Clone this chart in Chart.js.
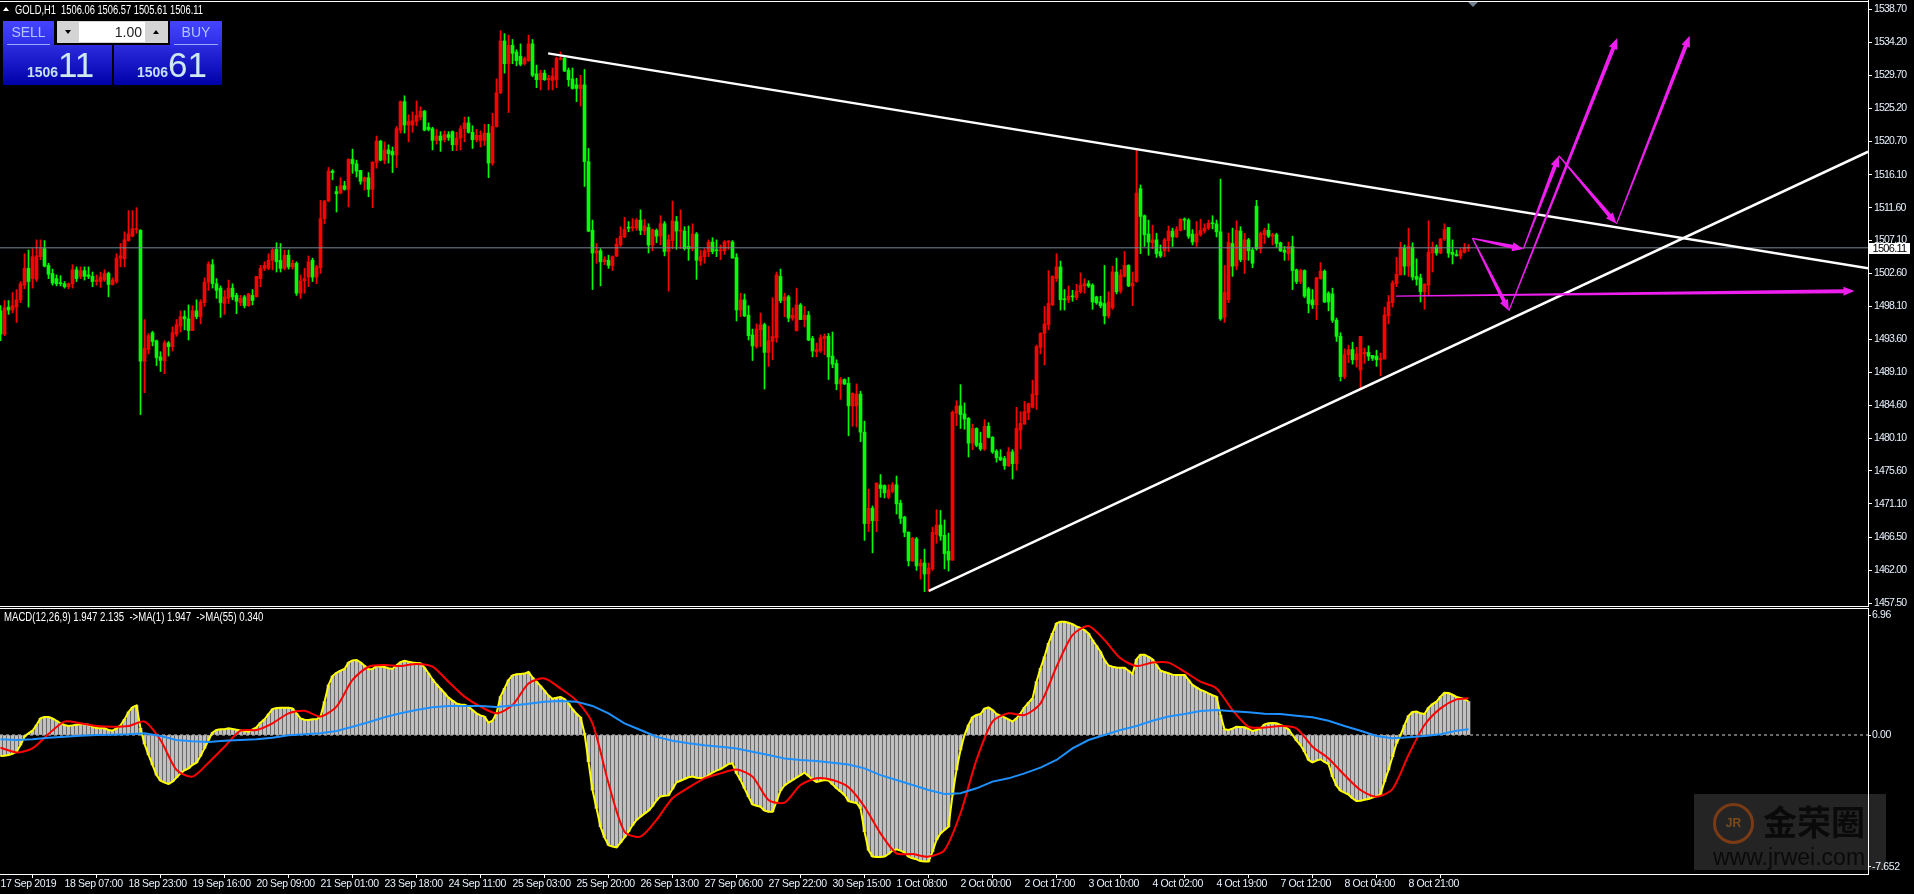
<!DOCTYPE html>
<html>
<head>
<meta charset="utf-8">
<title>GOLD,H1</title>
<script src="https://cdn.jsdelivr.net/npm/chart.js@4/dist/chart.umd.min.js"></script>
<style>
html, body { margin: 0; padding: 0; background: #000; overflow: hidden; }
body { width: 1914px; height: 894px; position: relative; font-family: "Liberation Sans", sans-serif; color: #fff; }
canvas { position: absolute; left: 0; }
#mainChart { top: 0; }
#macdChart { top: 608px; }
.abs { position: absolute; white-space: pre; }
.hline { position: absolute; left: 0; width: 1868px; height: 1px; background: #fff; }
#title { left: 15px; top: 3px; font-size: 12px; line-height: 14px; transform: scaleX(0.777); transform-origin: left center; }
#upmark { left: 3px; top: 7px; width: 0; height: 0; border-left: 3px solid transparent; border-right: 3px solid transparent; border-bottom: 4px solid #fff; }
#macdTitle { left: 4px; top: 610px; font-size: 12px; line-height: 14px; transform: scaleX(0.8); transform-origin: left center; }
#shift { left: 1468px; top: 2px; width: 0; height: 0; border-left: 5px solid transparent; border-right: 5px solid transparent; border-top: 5px solid #708090; }
#priceTag { left: 1869px; top: 243px; width: 41px; height: 11px; background: #fff; color: #000; font-size: 11px; letter-spacing: -0.7px; line-height: 11px; text-align: center; }
.btnTop { top: 21px; width: 51px; height: 24px; background: linear-gradient(#4545ff, #2e2ee6); color: #b4c4ff; font-size: 14px; line-height: 22px; text-align: center; }
.btnTop:after { content: ""; position: absolute; left: 4px; right: 4px; top: 23px; height: 1px; background: #9aa8ff; }
.btnLow { top: 45px; width: 109px; height: 40px; background: linear-gradient(#2c2ce0, #0000a8); }
.small { color: #c4e0f0; font-size: 14px; font-weight: bold; top: 65px; line-height: 14px; }
.big { color: #cfe8ee; font-size: 35px; top: 47px; line-height: 36px; }
#spin { left: 57px; top: 21px; width: 111px; height: 22px; background: #d4d4d4; }
#spinVal { left: 22px; top: 1px; width: 66px; height: 20px; background: #fff; color: #222; font-size: 14px; line-height: 20px; text-align: right; padding-right: 3px; box-sizing: border-box; }
.spinArrow { top: 9px; width: 0; height: 0; border-left: 3px solid transparent; border-right: 3px solid transparent; }
#wm { left: 1694px; top: 794px; width: 192px; height: 76px; background: rgba(255,255,255,0.14); }
#wmRing { left: 19px; top: 9px; width: 35px; height: 35px; border-radius: 50%; border: 3px solid #7a3a14; color: #7a4a1c; font-size: 12px; line-height: 35px; text-align: center; font-weight: bold; }
#wmName { left: 69px; top: 7px; color: #0a0a0a; font-size: 34px; line-height: 40px; font-family: "Noto Sans CJK SC", sans-serif; font-weight: 700; }
#wmUrl { left: 19px; top: 50px; color: #0a0a0a; font-size: 23px; line-height: 26px; }
</style>
</head>
<body>
<canvas id="mainChart" width="1914" height="607"></canvas>
<canvas id="macdChart" width="1914" height="286"></canvas>

<div class="hline" style="top:1px"></div>
<div class="hline" style="top:606px"></div>
<div class="hline" style="top:608px"></div>
<div id="upmark" class="abs"></div>
<div id="title" class="abs">GOLD,H1  1506.06 1506.57 1505.61 1506.11</div>
<div id="macdTitle" class="abs">MACD(12,26,9) 1.947 2.135  -&gt;MA(1) 1.947  -&gt;MA(55) 0.340</div>
<div id="shift" class="abs"></div>
<div id="priceTag" class="abs">1506.11</div>

<div class="abs btnLow" style="left:3px"></div>
<div class="abs btnLow" style="left:114px;width:108px"></div>
<div class="abs btnTop" style="left:3px">SELL</div>
<div class="abs btnTop" style="left:170px;width:52px">BUY</div>
<div id="spin" class="abs">
  <div class="abs spinArrow" style="left:8px;border-top:4px solid #000"></div>
  <div id="spinVal" class="abs">1.00</div>
  <div class="abs spinArrow" style="left:96px;border-bottom:4px solid #000"></div>
</div>
<div class="abs small" style="left:27px">1506</div>
<div class="abs big" style="left:58px">11</div>
<div class="abs small" style="left:137px">1506</div>
<div class="abs big" style="left:168px">61</div>

<div id="wm" class="abs">
  <div id="wmRing" class="abs">JR</div>
  <div id="wmName" class="abs">金荣圈</div>
  <div id="wmUrl" class="abs">www.jrwei.com</div>
</div>

<script>
"use strict";

// candles, one per hour bar
const opens = [
1497.5,1494.3,1498.0,1497.6,1498.0,1499.0,1501.0,1503.3,1501.9,1501.8,
1504.9,1506.0,1503.7,1502.6,1501.9,1501.3,1501.2,1500.8,1501.2,1503.1,
1502.2,1503.0,1502.4,1502.2,1501.5,1501.5,1501.7,1502.6,1501.1,1501.5,
1504.7,1504.6,1507.1,1507.7,1508.6,1508.5,1490.6,1492.2,1494.5,1493.4,
1491.2,1490.7,1493.1,1492.6,1494.3,1495.4,1496.7,1496.4,1494.8,1497.5,
1496.7,1498.6,1501.4,1503.8,1501.2,1500.6,1498.5,1499.2,1500.6,1499.6,
1498.6,1499.4,1498.2,1499.6,1499.4,1501.9,1503.3,1503.3,1504.4,1505.9,
1504.4,1503.3,1505.1,1503.5,1504.0,1499.9,1501.6,1502.1,1504.4,1502.1,
1503.4,1510.1,1512.5,1516.6,1513.8,1513.6,1514.6,1514.1,1518.2,1517.6,
1516.7,1515.2,1515.7,1514.1,1517.8,1520.7,1518.1,1519.5,1519.3,1518.8,
1522.2,1526.1,1522.9,1522.9,1523.4,1524.0,1524.8,1522.6,1522.4,1520.8,
1521.4,1520.9,1521.6,1522.0,1520.2,1521.1,1522.4,1523.2,1521.9,1520.9,
1520.8,1520.8,1521.8,1517.7,1522.7,1527.3,1534.4,1531.3,1533.8,1532.9,
1532.3,1531.3,1531.7,1534.0,1529.9,1529.1,1530.0,1529.1,1529.0,1529.1,
1531.9,1532.0,1530.4,1529.2,1528.4,1527.9,1528.4,1517.9,1508.5,1505.4,
1505.7,1504.2,1504.4,1503.7,1505.0,1506.5,1507.6,1508.9,1508.8,1508.8,
1509.9,1508.4,1508.9,1506.5,1508.5,1507.7,1509.4,1505.6,1507.1,1509.7,
1508.4,1508.4,1506.3,1506.0,1508.0,1504.3,1504.9,1505.6,1506.9,1505.8,
1505.7,1505.7,1506.9,1506.9,1504.8,1497.6,1499.0,1496.9,1494.2,1492.6,
1494.9,1495.6,1491.8,1493.3,1493.8,1502.2,1498.9,1499.4,1496.5,1494.8,
1498.3,1496.3,1496.9,1493.7,1491.9,1492.0,1493.7,1494.0,1491.3,1490.3,
1487.5,1488.1,1487.6,1484.5,1484.5,1486.1,1480.9,1468.4,1470.5,1468.8,
1473.7,1473.6,1472.0,1472.8,1473.7,1471.2,1469.3,1467.2,1463.3,1466.3,
1462.6,1463.0,1461.5,1462.2,1466.9,1468.2,1466.8,1464.6,1463.4,1483.5,
1484.5,1483.4,1482.8,1479.4,1481.4,1479.4,1478.6,1481.7,1480.2,1478.3,
1477.5,1477.3,1476.3,1478.2,1476.6,1481.2,1482.0,1483.6,1484.3,1486.0,
1492.5,1494.4,1495.6,1498.3,1501.9,1503.5,1499.1,1499.0,1499.5,1499.3,
1500.1,1500.9,1501.2,1501.0,1499.4,1498.7,1498.5,1496.8,1497.9,1502.8,
1500.2,1502.2,1503.7,1500.9,1501.5,1514.2,1510.5,1508.0,1506.8,1507.2,
1505.6,1505.7,1507.1,1508.4,1507.6,1508.5,1510.0,1509.9,1508.0,1506.9,
1507.9,1508.4,1508.8,1509.5,1509.4,1508.3,1496.6,1499.0,1506.7,1503.6,
1508.4,1504.5,1507.2,1505.8,1511.8,1506.0,1507.9,1508.5,1507.7,1507.9,
1506.8,1505.8,1505.3,1506.3,1503.1,1501.5,1503.0,1500.5,1499.0,1498.3,
1501.9,1502.9,1499.9,1499.8,1496.2,1494.0,1488.5,1491.5,1492.2,1490.8,
1489.4,1491.6,1491.8,1491.4,1491.3,1490.8,1490.9,1496.8,1498.6,1501.2,
1502.4,1506.1,1503.6,1506.2,1502.2,1502.0,1500.1,1501.0,1505.4,1506.2,
1505.4,1507.3,1508.9,1505.5,1505.2,1505.0,1505.5,1506.06];

const highs = [
1498.2,1498.9,1498.9,1500.0,1500.4,1501.5,1505.3,1505.8,1506.0,1507.2,
1507.2,1507.1,1504.0,1503.2,1502.4,1502.3,1501.5,1501.3,1503.8,1503.5,
1503.5,1503.5,1503.5,1502.8,1502.4,1502.8,1503.1,1502.8,1502.0,1505.3,
1506.7,1508.3,1511.2,1511.2,1511.6,1508.6,1496.3,1494.4,1494.7,1493.5,
1491.9,1493.4,1493.3,1495.3,1496.3,1497.5,1497.5,1498.3,1498.2,1499.0,
1499.0,1502.0,1504.2,1504.5,1501.9,1500.9,1500.3,1501.7,1501.2,1499.9,
1499.6,1499.6,1499.9,1500.4,1502.2,1503.7,1504.2,1505.3,1506.0,1506.8,
1506.7,1505.8,1505.8,1504.4,1504.2,1502.4,1503.3,1505.0,1504.7,1503.7,
1512.6,1512.6,1517.1,1516.8,1514.5,1515.7,1515.2,1518.3,1519.6,1518.1,
1516.7,1515.8,1516.4,1517.9,1521.4,1520.8,1520.6,1520.2,1519.9,1522.7,
1526.2,1526.9,1524.3,1524.7,1526.2,1525.4,1524.9,1523.2,1522.6,1522.3,
1522.0,1522.1,1522.0,1522.1,1521.9,1522.8,1524.0,1524.0,1522.8,1522.3,
1522.1,1523.0,1523.0,1524.5,1529.2,1535.8,1535.4,1535.2,1534.6,1533.2,
1534.0,1532.2,1535.2,1534.6,1531.1,1530.4,1530.4,1529.7,1530.7,1532.2,
1532.9,1532.2,1530.7,1530.7,1529.3,1529.7,1530.5,1519.7,1509.9,1506.7,
1506.0,1504.9,1505.1,1505.0,1507.4,1509.0,1510.3,1509.7,1510.1,1510.1,
1511.3,1510.0,1509.4,1508.7,1508.7,1510.5,1509.7,1507.9,1512.5,1510.4,
1511.3,1509.0,1509.1,1509.4,1508.2,1505.8,1506.0,1507.2,1507.5,1507.2,
1506.5,1507.1,1507.1,1507.1,1505.3,1499.9,1499.8,1498.2,1495.0,1495.7,
1497.2,1495.8,1495.4,1499.3,1502.8,1503.2,1499.9,1499.6,1497.9,1500.6,
1498.5,1498.1,1497.4,1494.0,1493.1,1494.2,1494.3,1494.4,1494.6,1490.8,
1488.4,1488.2,1488.4,1486.3,1487.5,1486.5,1482.4,1473.1,1470.8,1474.0,
1475.1,1473.7,1473.7,1474.0,1474.9,1471.6,1469.4,1467.3,1466.5,1466.5,
1463.5,1464.9,1463.0,1467.9,1470.3,1470.2,1468.9,1467.1,1483.8,1485.2,
1487.4,1484.9,1482.9,1482.0,1481.5,1480.9,1482.6,1482.2,1480.3,1478.5,
1478.5,1477.6,1478.8,1478.5,1484.3,1483.7,1485.1,1484.9,1488.0,1492.8,
1494.5,1498.1,1503.0,1502.3,1505.3,1504.3,1500.4,1500.9,1500.3,1501.1,
1502.7,1501.9,1501.6,1501.2,1499.5,1499.5,1503.7,1500.1,1503.6,1504.7,
1503.1,1505.6,1503.8,1502.8,1519.5,1514.7,1510.6,1509.9,1509.2,1508.1,
1506.5,1507.4,1509.1,1508.8,1509.0,1510.1,1510.2,1510.1,1508.6,1509.7,
1510.0,1509.4,1509.9,1510.5,1509.9,1515.5,1503.7,1508.1,1508.8,1509.8,
1509.0,1508.1,1507.4,1506.1,1512.6,1508.3,1508.8,1509.4,1508.1,1508.1,
1506.9,1506.3,1506.9,1507.7,1503.2,1503.2,1503.1,1500.7,1500.4,1502.1,
1504.1,1503.1,1500.1,1500.6,1496.5,1494.5,1492.3,1492.8,1493.2,1492.5,
1494.0,1492.4,1492.7,1491.4,1492.1,1491.7,1498.0,1499.6,1501.6,1504.8,
1506.9,1506.5,1508.8,1506.8,1504.6,1502.5,1501.2,1509.8,1506.9,1506.5,
1507.4,1509.4,1508.9,1507.2,1505.8,1506.0,1506.7,1506.57];

const lows = [
1493.4,1494.1,1497.0,1497.2,1495.9,1498.6,1500.5,1498.0,1500.6,1501.5,
1504.5,1503.5,1501.9,1501.0,1500.9,1500.9,1500.6,1500.5,1500.6,1501.5,
1501.9,1501.7,1501.9,1500.8,1501.0,1500.7,1501.5,1499.4,1501.0,1501.3,
1503.5,1503.5,1507.0,1507.6,1508.1,1483.3,1486.3,1491.6,1492.7,1490.0,
1489.2,1488.9,1491.3,1492.0,1494.0,1494.6,1494.9,1493.5,1494.8,1496.4,
1495.7,1498.1,1500.3,1500.6,1499.2,1496.6,1497.0,1498.5,1499.0,1497.1,
1498.2,1497.9,1498.1,1498.3,1499.4,1500.8,1503.0,1503.1,1503.1,1502.8,
1502.8,1503.1,1503.2,1503.2,1499.6,1499.2,1499.9,1500.8,1501.5,1501.2,
1502.6,1509.4,1512.4,1515.4,1511.0,1513.5,1514.0,1511.7,1516.3,1515.8,
1514.8,1514.0,1513.1,1511.6,1517.0,1518.0,1517.6,1517.7,1516.4,1517.1,
1521.8,1521.8,1520.6,1521.9,1522.8,1523.6,1522.1,1522.1,1519.5,1520.3,
1519.3,1520.6,1520.8,1519.4,1519.4,1519.5,1520.6,1521.8,1519.7,1520.6,
1519.9,1520.1,1515.7,1517.4,1522.6,1527.2,1530.0,1524.6,1531.3,1531.0,
1531.0,1531.1,1531.6,1529.5,1528.0,1527.7,1529.0,1527.7,1527.7,1528.0,
1531.8,1530.2,1528.2,1527.8,1526.1,1525.5,1514.5,1508.3,1500.4,1504.0,
1500.9,1503.8,1503.3,1503.0,1504.9,1506.3,1507.5,1508.3,1508.4,1508.5,
1507.9,1507.9,1505.4,1505.7,1506.8,1506.5,1505.0,1500.2,1506.0,1505.9,
1506.0,1505.8,1504.4,1505.7,1501.8,1503.7,1504.0,1504.9,1505.3,1504.9,
1504.5,1505.2,1505.9,1504.7,1496.1,1496.7,1496.7,1493.5,1490.7,1492.4,
1492.6,1486.8,1489.9,1490.8,1493.2,1498.6,1496.7,1496.0,1496.2,1494.7,
1496.3,1495.3,1493.4,1491.2,1491.2,1491.8,1491.5,1488.1,1489.7,1486.7,
1485.4,1487.4,1480.4,1481.7,1481.6,1479.6,1466.1,1467.3,1464.4,1467.3,
1472.0,1471.9,1471.8,1472.6,1469.7,1468.4,1466.6,1462.6,1463.2,1462.0,
1460.8,1459.1,1459.1,1462.0,1465.7,1466.1,1462.2,1461.9,1463.4,1481.8,
1481.4,1481.3,1477.5,1478.5,1478.9,1478.4,1478.4,1480.1,1478.0,1476.8,
1477.0,1475.8,1476.2,1474.5,1475.7,1478.6,1482.0,1482.6,1484.2,1484.0,
1491.6,1490.1,1494.9,1498.2,1501.5,1497.6,1497.6,1498.6,1498.8,1499.0,
1499.9,1499.9,1500.7,1497.7,1498.4,1497.9,1495.7,1496.5,1497.7,1499.8,
1499.9,1502.1,1500.8,1498.2,1501.4,1505.3,1506.3,1505.1,1506.0,1504.8,
1504.8,1504.9,1505.6,1506.3,1507.5,1508.4,1508.6,1507.4,1506.5,1506.3,
1507.7,1508.1,1508.6,1508.7,1507.6,1496.2,1495.9,1498.6,1502.2,1503.1,
1504.2,1502.6,1504.4,1503.4,1505.8,1505.4,1506.7,1507.5,1506.5,1506.2,
1505.6,1504.4,1504.4,1500.4,1501.2,1501.2,1499.3,1497.2,1497.8,1496.3,
1501.8,1498.6,1497.5,1495.9,1493.3,1487.9,1488.2,1490.4,1490.2,1489.8,
1486.9,1490.3,1490.7,1490.7,1489.9,1488.6,1490.9,1495.7,1498.0,1500.8,
1502.4,1502.4,1502.2,1501.7,1501.0,1498.7,1497.7,1499.6,1502.8,1505.1,
1505.3,1507.1,1504.8,1503.9,1505.0,1504.6,1505.4,1505.61];

const closes = [
1494.3,1497.9,1497.6,1498.2,1499.0,1501.2,1503.3,1501.5,1504.9,1505.0,
1506.0,1503.6,1502.5,1501.3,1501.2,1501.2,1500.8,1501.2,1503.1,1501.9,
1503.0,1502.2,1502.2,1501.5,1501.7,1502.1,1502.6,1501.1,1501.7,1504.7,
1505.0,1507.2,1508.0,1508.7,1508.7,1490.6,1492.4,1494.1,1493.3,1491.1,
1490.7,1493.1,1492.6,1494.5,1495.6,1496.7,1496.4,1494.8,1497.5,1496.7,
1498.7,1501.4,1503.9,1501.2,1500.3,1498.6,1499.4,1500.6,1499.4,1498.8,
1499.2,1498.2,1499.8,1498.9,1502.2,1503.3,1503.7,1504.4,1505.8,1504.2,
1503.3,1505.1,1503.5,1504.0,1499.9,1501.6,1501.9,1504.2,1502.1,1503.5,
1510.1,1512.5,1516.6,1516.4,1513.5,1514.6,1514.1,1518.2,1517.6,1516.6,
1515.2,1515.7,1514.1,1517.8,1520.7,1518.1,1519.5,1519.0,1518.8,1522.4,
1526.1,1522.9,1523.4,1523.5,1524.2,1524.8,1522.2,1522.3,1520.8,1521.4,
1520.8,1521.6,1521.2,1520.2,1521.1,1522.4,1523.2,1521.9,1520.9,1521.5,
1521.5,1521.8,1517.7,1522.7,1527.3,1534.4,1531.3,1533.8,1532.7,1531.7,
1531.2,1532.0,1534.0,1529.7,1529.1,1530.0,1529.1,1529.3,1529.6,1532.0,
1532.0,1530.3,1529.1,1527.9,1527.9,1528.4,1517.9,1508.4,1505.4,1505.7,
1504.2,1504.5,1503.7,1504.9,1506.6,1507.7,1508.6,1508.8,1509.0,1509.9,
1508.5,1509.1,1506.5,1508.6,1507.7,1509.4,1505.6,1507.2,1509.8,1508.4,
1508.5,1506.0,1506.0,1508.0,1504.4,1504.9,1505.7,1506.9,1505.6,1505.7,
1505.8,1506.9,1507.0,1504.7,1497.6,1499.0,1496.8,1494.1,1492.7,1495.0,
1495.6,1491.8,1493.4,1494.0,1502.4,1498.9,1499.4,1496.5,1496.9,1498.3,
1496.3,1496.9,1493.5,1492.0,1492.2,1493.8,1494.0,1491.2,1490.2,1487.5,
1488.1,1487.5,1484.5,1486.2,1486.1,1480.9,1468.4,1470.5,1468.8,1473.9,
1473.2,1472.6,1473.0,1473.7,1471.1,1469.1,1467.2,1463.3,1466.4,1462.6,
1463.0,1461.5,1462.3,1467.2,1468.2,1466.7,1464.3,1463.4,1483.6,1484.5,
1483.3,1482.7,1479.4,1481.4,1479.1,1478.6,1481.7,1480.2,1478.2,1477.4,
1477.1,1476.3,1478.2,1476.6,1481.4,1482.1,1483.7,1484.8,1486.1,1492.6,
1494.4,1495.7,1498.5,1502.2,1503.5,1499.0,1499.0,1499.5,1499.4,1500.2,
1501.0,1501.2,1500.9,1498.7,1498.6,1498.2,1496.8,1498.7,1502.8,1500.1,
1502.4,1503.7,1500.9,1501.3,1513.6,1510.4,1507.9,1506.9,1507.2,1505.3,
1505.0,1507.2,1508.4,1507.6,1508.6,1510.0,1509.9,1507.7,1506.9,1508.0,
1508.5,1508.8,1509.5,1509.4,1508.3,1496.4,1500.0,1506.9,1503.6,1508.5,
1504.5,1507.2,1505.7,1504.0,1506.0,1508.1,1508.5,1507.7,1507.9,1506.7,
1505.7,1505.5,1506.3,1503.0,1501.5,1503.0,1499.5,1498.5,1498.3,1502.0,
1502.9,1498.7,1498.7,1496.2,1494.0,1488.5,1491.5,1492.2,1490.8,1491.6,
1494.0,1491.8,1491.3,1491.0,1490.8,1491.0,1496.9,1498.7,1501.3,1502.5,
1506.1,1503.6,1506.3,1502.1,1501.8,1500.1,1501.15,1505.5,1506.2,1505.4,
1507.3,1508.6,1505.4,1505.2,1505.0,1505.7,1506.1,1506.11];

// MACD main line, also the grey histogram
const macdHist = [
-1.22,-1.20,-1.16,-1.09,-0.97,-0.58,-0.10,0.10,0.25,0.58,
0.97,1.05,1.05,0.97,0.83,0.68,0.58,0.52,0.56,0.60,
0.62,0.62,0.60,0.47,0.41,0.39,0.39,0.29,0.25,0.39,
0.56,0.91,1.34,1.61,1.72,0.39,-0.52,-1.16,-1.74,-2.33,
-2.66,-2.77,-2.85,-2.71,-2.48,-2.23,-2.05,-1.94,-1.74,-1.61,
-1.22,-0.78,-0.29,0.14,0.29,0.33,0.33,0.39,0.35,0.31,
0.27,0.23,0.19,0.33,0.45,0.72,0.91,1.22,1.51,1.57,
1.59,1.59,1.59,1.55,1.26,0.97,0.89,0.87,0.91,0.91,
1.07,1.94,2.91,3.43,3.62,3.74,3.84,4.21,4.34,4.36,
4.22,4.03,3.82,3.84,4.01,3.97,3.95,3.88,3.84,4.05,
4.24,4.32,4.26,4.21,4.19,4.17,3.91,3.59,3.24,2.95,
2.69,2.44,2.17,2.00,1.84,1.78,1.76,1.65,1.45,1.26,
1.14,1.07,0.72,0.83,1.26,2.23,2.71,3.20,3.47,3.53,
3.55,3.57,3.66,3.35,3.10,2.85,2.58,2.29,2.11,2.17,
2.21,2.09,1.84,1.51,1.24,1.03,0.10,-1.55,-3.20,-4.26,
-5.33,-5.95,-6.40,-6.49,-6.53,-6.26,-5.95,-5.62,-5.25,-4.94,
-4.75,-4.57,-4.40,-4.13,-3.80,-3.57,-3.53,-3.51,-3.14,-2.75,
-2.66,-2.56,-2.46,-2.42,-2.48,-2.50,-2.50,-2.33,-2.19,-2.07,
-1.98,-1.84,-1.69,-1.65,-2.23,-2.62,-3.10,-3.59,-4.03,-4.11,
-4.17,-4.40,-4.46,-4.46,-3.88,-3.24,-2.93,-2.77,-2.62,-2.48,
-2.33,-2.19,-2.38,-2.58,-2.73,-2.67,-2.62,-2.64,-2.87,-3.10,
-3.29,-3.49,-3.84,-3.91,-3.95,-4.26,-5.62,-6.69,-7.07,-7.09,
-7.09,-7.07,-6.92,-6.72,-6.65,-6.72,-6.82,-7.07,-7.17,-7.23,
-7.33,-7.36,-7.36,-6.78,-6.10,-5.72,-5.52,-5.33,-3.49,-2.03,
-0.87,0.00,0.58,1.03,1.16,1.22,1.53,1.61,1.45,1.22,
1.12,1.03,0.91,0.78,0.97,1.26,1.61,1.88,2.13,3.10,
3.88,4.55,5.33,5.91,6.49,6.59,6.59,6.53,6.45,6.32,
6.22,6.10,5.91,5.52,5.19,4.84,4.36,4.05,3.97,3.93,
3.91,3.91,3.74,3.55,4.40,4.67,4.67,4.55,4.40,4.07,
3.74,3.66,3.59,3.51,3.49,3.49,3.49,3.20,2.91,2.77,
2.62,2.54,2.42,2.31,2.23,1.16,0.33,0.29,0.37,0.48,
0.47,0.45,0.35,0.23,0.29,0.39,0.62,0.68,0.70,0.68,
0.58,0.48,0.33,0.00,-0.33,-0.58,-0.97,-1.45,-1.59,-1.49,
-1.41,-1.57,-1.69,-2.42,-2.95,-3.24,-3.35,-3.47,-3.68,-3.84,
-3.82,-3.76,-3.72,-3.64,-3.57,-3.45,-2.71,-2.03,-1.26,-0.48,
0.00,0.58,1.12,1.34,1.36,1.26,1.22,1.59,1.80,1.94,
2.23,2.46,2.44,2.34,2.21,2.15,2.09,1.947];

// red signal and blue MA(55), read at every 4th bar and at the last bar
const lineBars = [
0,4,8,12,16,20,24,28,32,36,40,44,48,52,56,60,64,68,72,76,80,84,88,92,96,100,
104,108,112,116,120,124,128,132,136,140,144,148,152,156,160,164,168,172,176,180,
184,188,192,196,200,204,208,212,216,220,224,228,232,236,240,244,248,252,256,260,
264,268,272,276,280,284,288,292,296,300,304,308,312,316,320,324,328,332,336,340,
344,348,352,356,360,364,367];

const macdSignal = [
-0.74,-1.01,-0.78,0.06,0.78,0.68,0.52,0.48,0.52,0.78,
-0.29,-2.03,-2.42,-1.61,-0.68,0.25,0.29,0.68,1.26,1.41,
1.07,1.65,3.20,3.97,4.07,4.01,4.13,3.97,3.10,2.23,
1.65,1.26,1.74,3.00,3.29,2.71,2.00,0.68,-2.81,-5.62,-5.91,
-4.94,-3.68,-3.06,-2.52,-2.23,-2.00,-2.42,-3.78,-3.93,-2.91,
-2.52,-2.62,-3.04,-4.17,-5.72,-6.88,-6.92,-7.07,-6.69,-4.55,
-1.45,0.78,1.26,1.16,1.84,3.97,5.81,6.34,5.52,4.46,
4.01,4.21,4.21,3.68,3.10,2.71,1.45,0.48,0.43,0.52,
0.39,-0.68,-1.36,-2.33,-3.20,-3.59,-3.14,-1.16,0.58,1.55,2.07,2.135];

const macdMa55 = [
-0.25,-0.29,-0.25,-0.16,-0.10,-0.04,0.00,0.02,0.04,0.10,
-0.06,-0.29,-0.37,-0.41,-0.33,-0.29,-0.25,-0.16,-0.02,0.04,
0.10,0.23,0.48,0.74,1.03,1.26,1.45,1.61,1.69,1.69,
1.69,1.63,1.72,1.82,1.94,1.98,1.94,1.69,1.26,0.68,0.29,
-0.10,-0.33,-0.48,-0.60,-0.68,-0.78,-0.97,-1.16,-1.36,-1.45,
-1.51,-1.61,-1.71,-1.94,-2.33,-2.62,-2.91,-3.20,-3.43,-3.39,
-3.10,-2.71,-2.52,-2.23,-1.90,-1.45,-0.78,-0.29,0.00,0.29,
0.52,0.83,1.07,1.22,1.40,1.45,1.38,1.32,1.24,1.22,
1.12,1.03,0.83,0.52,0.25,-0.06,-0.19,-0.13,-0.06,0.04,0.25,0.340];

const priceTicks = [1538.7,1534.2,1529.7,1525.2,1520.7,1516.1,1511.6,1507.1,1502.6,1498.1,1493.6,1489.1,1484.6,1480.1,1475.6,1471.1,1466.5,1462.0,1457.5];
const macdTicks = [6.96, 0, -7.652];
const macdTickLabels = ["6.96", "0.00", "-7.652"];
const timeTickBars = [0,16,32,48,64,80,96,112,128,144,160,176,192,208,224,240,256,272,288,304,320,336,352];
const timeLabels = ["17 Sep 2019","18 Sep 07:00","18 Sep 23:00","19 Sep 16:00","20 Sep 09:00","21 Sep 01:00","23 Sep 18:00","24 Sep 11:00","25 Sep 03:00","25 Sep 20:00","26 Sep 13:00","27 Sep 06:00","27 Sep 22:00","30 Sep 15:00","1 Oct 08:00","2 Oct 00:00","2 Oct 17:00","3 Oct 10:00","4 Oct 02:00","4 Oct 19:00","7 Oct 12:00","8 Oct 04:00","8 Oct 21:00"];

const bidPrice = 1506.11;

// hand drawn objects, in bar number and price
const upperLineBars = [136.9, 466.9];
const upperLinePrices = [1532.7, 1503.3];
const lowerLineBars = [232.1, 466.9];
const lowerLinePrices = [1459.2, 1519.25];

const arrowFromBars = [368, 368, 380.7, 377.1, 389.6, 404, 348.8];
const arrowFromPrices = [1507.4, 1507.4, 1505.95, 1497.5, 1518.7, 1509.4, 1499.5];
const arrowToBars = [380.7, 377.1, 389.6, 404.2, 404, 422.3, 463.5];
const arrowToPrices = [1505.95, 1497.5, 1518.7, 1534.8, 1509.4, 1535.1, 1500.2];

const UP = "#ff0000";
const DOWN = "#00ff00";
const AXIS_FONT = { family: "'Liberation Sans', sans-serif", size: 10.5 };

const barColors = opens.map((o, i) => (closes[i] > o ? UP : DOWN));
const wickData = opens.map((o, i) => ({ x: i, y: [lows[i], highs[i]] }));
const bodyData = opens.map((o, i) => ({ x: i, y: [o, closes[i]] }));

function pairs(xs, ys) {
    return xs.map((x, i) => ({ x: x, y: ys[i] }));
}

// x axis is the same for both panes, each bar takes 4 pixels
const xMin = -0.125;
const xMax = 466.875;

// keep the panes at full size, no room for labels that stick out
function fixWidth(scale) {
    scale.width = 46;
    scale.paddingTop = 0;
    scale.paddingBottom = 0;
}

function tightText(spacing) {
    return {
        id: "tightText",
        beforeDraw(chart) {
            chart.ctx.letterSpacing = spacing;
        }
    };
}

// MT4 arrow: a thin start that widens up to a solid head
const arrowPlugin = {
    id: "arrows",
    afterDatasetsDraw(chart) {
        const x = chart.scales.x;
        const y = chart.scales.y;
        const ctx = chart.ctx;
        ctx.save();
        ctx.fillStyle = "#ee1fee";
        for (let i = 0; i < arrowFromBars.length; i++) {
            const x0 = x.getPixelForValue(arrowFromBars[i]);
            const y0 = y.getPixelForValue(arrowFromPrices[i]);
            const x1 = x.getPixelForValue(arrowToBars[i]);
            const y1 = y.getPixelForValue(arrowToPrices[i]);
            const len = Math.hypot(x1 - x0, y1 - y0);
            const ux = (x1 - x0) / len;
            const uy = (y1 - y0) / len;
            const nx = -uy;
            const ny = ux;
            const bx = x1 - ux * 11;
            const by = y1 - uy * 11;
            ctx.beginPath();
            ctx.moveTo(x0 + nx * 0.6, y0 + ny * 0.6);
            ctx.lineTo(bx + nx * 2, by + ny * 2);
            ctx.lineTo(bx + nx * 4.5, by + ny * 4.5);
            ctx.lineTo(x1, y1);
            ctx.lineTo(bx - nx * 4.5, by - ny * 4.5);
            ctx.lineTo(bx - nx * 2, by - ny * 2);
            ctx.lineTo(x0 - nx * 0.6, y0 - ny * 0.6);
            ctx.closePath();
            ctx.fill();
        }
        ctx.restore();
    }
};

new Chart(document.getElementById("mainChart"), {
    data: {
        datasets: [
            { type: "line", label: "lower", data: pairs(lowerLineBars, lowerLinePrices), borderColor: "#fff", borderWidth: 2.5, pointRadius: 0, order: 1 },
            { type: "line", label: "upper", data: pairs(upperLineBars, upperLinePrices), borderColor: "#fff", borderWidth: 2.5, pointRadius: 0, order: 1 },
            { type: "line", label: "bid", data: pairs([xMin, xMax], [bidPrice, bidPrice]), borderColor: "#778899", borderWidth: 1, pointRadius: 0, order: 2 },
            { type: "bar", label: "body", data: bodyData, backgroundColor: barColors, barThickness: 3, minBarLength: 1, grouped: false, order: 3 },
            { type: "bar", label: "wick", data: wickData, backgroundColor: barColors, barThickness: 1, grouped: false, order: 4 }
        ]
    },
    options: {
        responsive: false,
        animation: false,
        events: [],
        layout: { padding: 0 },
        plugins: { legend: { display: false }, tooltip: { enabled: false } },
        scales: {
            x: {
                type: "linear",
                offset: false,
                min: xMin,
                max: xMax,
                display: false
            },
            y: {
                position: "right",
                min: 1456.99,
                max: 1540,
                afterFit: fixWidth,
                afterBuildTicks(scale) {
                    scale.ticks = priceTicks.map((v) => ({ value: v }));
                },
                border: { color: "#fff", width: 1 },
                grid: { drawOnChartArea: false, color: "#fff", tickLength: 4 },
                ticks: {
                    color: "#e8f2ff",
                    padding: 2,
                    autoSkip: false,
                    font: AXIS_FONT,
                    callback: (v) => v.toFixed(2)
                }
            }
        }
    },
    plugins: [arrowPlugin, tightText("-0.8px")]
});

new Chart(document.getElementById("macdChart"), {
    data: {
        datasets: [
            { type: "line", label: "MA(55)", data: pairs(lineBars, macdMa55), borderColor: "#1e90ff", borderWidth: 2, pointRadius: 0, order: 1 },
            { type: "line", label: "Signal", data: pairs(lineBars, macdSignal), borderColor: "#ff0000", borderWidth: 2, pointRadius: 0, tension: 0.25, order: 2 },
            { type: "line", label: "MACD", data: macdHist.map((v, i) => ({ x: i, y: v })), borderColor: "#ffff00", borderWidth: 2, pointRadius: 0, order: 3 },
            { type: "bar", label: "Histogram", data: macdHist.map((v, i) => ({ x: i, y: v })), backgroundColor: "#c0c0c0", barThickness: 3, grouped: false, order: 4 },
            { type: "line", label: "zero", data: pairs([xMin, xMax], [0, 0]), borderColor: "#d0d0d0", borderWidth: 1, borderDash: [3, 3], pointRadius: 0, order: 5 }
        ]
    },
    options: {
        responsive: false,
        animation: false,
        events: [],
        layout: { padding: 0 },
        plugins: { legend: { display: false }, tooltip: { enabled: false } },
        scales: {
            x: {
                type: "linear",
                offset: false,
                min: xMin,
                max: xMax,
                afterFit(scale) {
                    scale.height = 20;
                    scale.paddingLeft = 0;
                    scale.paddingRight = 0;
                },
                afterBuildTicks(scale) {
                    scale.ticks = timeTickBars.map((v) => ({ value: v }));
                },
                border: { color: "#fff", width: 1 },
                grid: { drawOnChartArea: false, color: "#fff", tickLength: 4 },
                ticks: {
                    color: "#e8f2ff",
                    padding: 0,
                    align: "start",
                    autoSkip: false,
                    maxRotation: 0,
                    font: AXIS_FONT,
                    callback: (v) => timeLabels[timeTickBars.indexOf(v)]
                }
            },
            y: {
                position: "right",
                min: -8.081,
                max: 7.384,
                afterFit: fixWidth,
                afterBuildTicks(scale) {
                    scale.ticks = macdTicks.map((v) => ({ value: v }));
                },
                border: { color: "#fff", width: 1 },
                grid: { drawOnChartArea: false, color: "#fff", tickLength: 3 },
                ticks: {
                    color: "#e8f2ff",
                    padding: 1,
                    autoSkip: false,
                    font: AXIS_FONT,
                    callback: (v) => macdTickLabels[macdTicks.indexOf(v)]
                }
            }
        }
    },
    plugins: [tightText("-0.35px")]
});
</script>
</body>
</html>
